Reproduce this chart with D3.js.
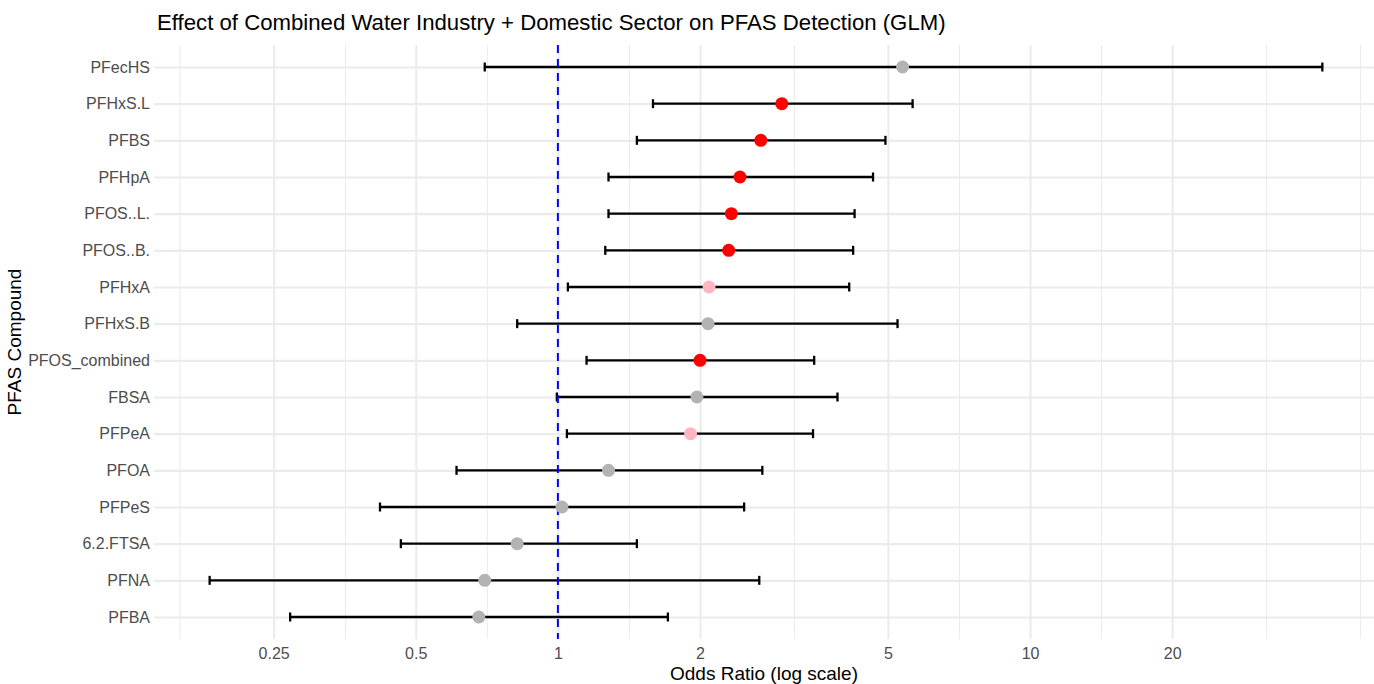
<!DOCTYPE html>
<html>
<head>
<meta charset="utf-8">
<script src="https://cdn.jsdelivr.net/npm/d3@7"></script>
<style>
  body { margin: 0; background: #ffffff; }
  text { font-family: "Liberation Sans", Arial, sans-serif; }
</style>
</head>
<body>
<div id="chart"></div>
<script>
// odds ratios per PFAS compound (top to bottom)
const compounds = ["PFecHS", "PFHxS.L", "PFBS", "PFHpA", "PFOS..L.", "PFOS..B.", "PFHxA", "PFHxS.B",
                   "PFOS_combined", "FBSA", "PFPeA", "PFOA", "PFPeS", "6.2.FTSA", "PFNA", "PFBA"];
const oddsRatio = [5.37, 2.98, 2.69, 2.43, 2.33, 2.30, 2.09, 2.08, 2.00, 1.97, 1.91, 1.28, 1.02, 0.82, 0.70, 0.68];
const ciLow     = [0.70, 1.59, 1.47, 1.28, 1.28, 1.26, 1.05, 0.82, 1.15, 0.995, 1.045, 0.61, 0.42, 0.465, 0.183, 0.271];
const ciHigh    = [41.6, 5.64, 4.94, 4.65, 4.25, 4.22, 4.14, 5.24, 3.49, 3.91, 3.47, 2.71, 2.48, 1.47, 2.67, 1.71];
const signif    = ["ns", "sig", "sig", "sig", "sig", "sig", "marg", "ns",
                   "sig", "ns", "marg", "ns", "ns", "ns", "ns", "ns"];

// axis breaks
const majorBreaks = [0.25, 0.5, 1, 2, 5, 10, 20];
const minorBreaks = [0.158, 0.354, 0.707, 1.414, 3.162, 7.071, 14.14, 31.62, 50];

const data = compounds.map((c, i) => ({
    name: c, or: oddsRatio[i], lo: ciLow[i], hi: ciHigh[i], sig: signif[i]
}));

const width = 1374, height = 684;
const pLeft = 154, pRight = 1378, pTop = 45, pBottom = 639;

const svg = d3.select("#chart").append("svg")
    .attr("width", width)
    .attr("height", height);

// log x domain with 5% expansion like ggplot
const lmin = Math.log10(d3.min(ciLow)), lmax = Math.log10(d3.max(ciHigh));
const pad = (lmax - lmin) * 0.05;
const x = d3.scaleLog()
    .domain([Math.pow(10, lmin - pad), Math.pow(10, lmax + pad)])
    .range([pLeft, pRight]);

const y = d3.scalePoint()
    .domain(compounds)
    .range([pTop, pBottom])
    .padding(0.6);

const colorMap = { sig: "#ff0000", marg: "#ffb6c1", ns: "#b3b3b3" };

// grid: minor verticals
svg.append("g")
    .attr("transform", `translate(0,${pBottom})`)
    .call(d3.axisBottom(x).tickValues(minorBreaks).tickSize(-(pBottom - pTop)).tickFormat(""))
    .call(g => g.select(".domain").remove())
    .call(g => g.selectAll("line").attr("stroke", "#ebebeb").attr("stroke-width", 1));

// grid: major verticals
svg.append("g")
    .attr("transform", `translate(0,${pBottom})`)
    .call(d3.axisBottom(x).tickValues(majorBreaks).tickSize(-(pBottom - pTop)).tickFormat(""))
    .call(g => g.select(".domain").remove())
    .call(g => g.selectAll("line").attr("stroke", "#ebebeb").attr("stroke-width", 2));

// grid: horizontal rows
svg.append("g")
    .attr("transform", `translate(${pLeft},0)`)
    .call(d3.axisLeft(y).tickSize(-(pRight - pLeft)).tickFormat(""))
    .call(g => g.select(".domain").remove())
    .call(g => g.selectAll("line").attr("stroke", "#ebebeb").attr("stroke-width", 2.2));

// x tick labels
svg.append("g")
    .attr("transform", `translate(0,${pBottom})`)
    .call(d3.axisBottom(x).tickValues(majorBreaks).tickSize(0).tickPadding(9).tickFormat(d3.format("~g")))
    .call(g => g.select(".domain").remove())
    .call(g => g.selectAll("text").attr("fill", "#4d4d4d").attr("font-size", 16)
        .attr("font-family", "Liberation Sans, Arial, sans-serif"));

// y tick labels
svg.append("g")
    .attr("transform", `translate(${pLeft - 4},0)`)
    .call(d3.axisLeft(y).tickSize(0).tickPadding(0))
    .call(g => g.select(".domain").remove())
    .call(g => g.selectAll("text").attr("fill", "#4d4d4d").attr("font-size", 16)
        .attr("font-family", "Liberation Sans, Arial, sans-serif"));

// error bars
const bars = svg.append("g").selectAll("g")
    .data(data)
    .enter()
    .append("g");

bars.append("line")
    .attr("x1", d => x(d.lo))
    .attr("x2", d => x(d.hi))
    .attr("y1", d => y(d.name))
    .attr("y2", d => y(d.name))
    .attr("stroke", "#000")
    .attr("stroke-width", 2.3);

bars.append("line")
    .attr("x1", d => x(d.lo))
    .attr("x2", d => x(d.lo))
    .attr("y1", d => y(d.name) - 4.5)
    .attr("y2", d => y(d.name) + 4.5)
    .attr("stroke", "#000")
    .attr("stroke-width", 2.3);

bars.append("line")
    .attr("x1", d => x(d.hi))
    .attr("x2", d => x(d.hi))
    .attr("y1", d => y(d.name) - 4.5)
    .attr("y2", d => y(d.name) + 4.5)
    .attr("stroke", "#000")
    .attr("stroke-width", 2.3);

// reference line at OR = 1
svg.append("line")
    .attr("x1", x(1))
    .attr("x2", x(1))
    .attr("y1", pTop)
    .attr("y2", pBottom)
    .attr("stroke", "#0000ff")
    .attr("stroke-width", 2)
    .attr("stroke-dasharray", "8,6");

// points
svg.append("g").selectAll("circle")
    .data(data)
    .enter()
    .append("circle")
    .attr("cx", d => x(d.or))
    .attr("cy", d => y(d.name))
    .attr("r", 6.5)
    .attr("fill", d => colorMap[d.sig]);

// title
svg.append("text")
    .attr("x", 157)
    .attr("y", 30)
    .attr("font-size", 22.2)
    .attr("fill", "#000")
    .text("Effect of Combined Water Industry + Domestic Sector on PFAS Detection (GLM)");

// axis titles
svg.append("text")
    .attr("x", (pLeft + 1374) / 2)
    .attr("y", 680)
    .attr("text-anchor", "middle")
    .attr("font-size", 19)
    .text("Odds Ratio (log scale)");

svg.append("text")
    .attr("transform", `translate(21,${(pTop + pBottom) / 2}) rotate(-90)`)
    .attr("text-anchor", "middle")
    .attr("font-size", 19)
    .text("PFAS Compound");
</script>
</body>
</html>
